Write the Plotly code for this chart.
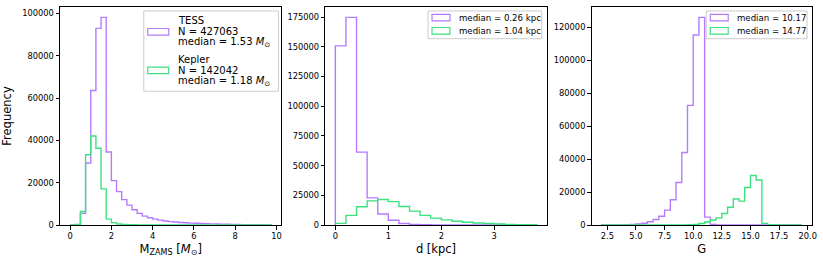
import plotly.graph_objects as go

# ---------------- data ----------------
mass_edges = [round(0.25 * i, 2) for i in range(40)]          # 0 .. 9.75
mass_tess = [0, 0, 5500, 29300, 63600, 93000, 98200, 34500, 21000, 15800,
             12000, 9400, 7200, 5500, 4200, 3400, 2800, 2300, 1900, 1600,
             1400, 1200, 1050, 900, 800, 700, 600, 520, 450, 390,
             330, 280, 240, 200, 170, 140, 110, 90, 70]
mass_kepler = [0, 300, 6400, 33200, 42100, 36300, 17100, 2800, 1100, 500,
               250, 150, 100, 60, 40, 20, 10, 0, 0, 0,
               0, 0, 0, 0, 0, 0, 0, 0, 0, 0,
               0, 0, 0, 0, 0, 0, 0, 0, 0]

dist_edges = [round(0.2 * i, 2) for i in range(20)]            # 0 .. 3.8
dist_tess = [150800, 174800, 61300, 22800, 9300, 4000, 1300, 500, 250, 120,
             70, 40, 30, 20, 10, 10, 5, 5, 5]
dist_kepler = [1400, 8100, 15400, 20300, 21500, 19700, 15600, 11700, 8100, 5800,
               4300, 3200, 2300, 1700, 1200, 800, 500, 300, 200]

g_edges = [round(2.0 + 0.5 * i, 2) for i in range(36)]         # 2.0 .. 19.5
g_tess = [10, 20, 30, 60, 150, 300, 600, 1100, 2000, 3300,
          5300, 9000, 15300, 25800, 44000, 72600, 115300, 126000, 4800, 400,
          50, 0, 0, 0, 0, 0, 0, 0, 0, 0,
          0, 0, 0, 0, 0]
g_kepler = [0, 0, 0, 0, 0, 0, 0, 0, 0, 0,
            0, 0, 0, 0, 50, 150, 400, 900, 1800, 3000,
            4300, 7000, 10800, 15800, 14500, 22800, 30000, 27300, 1000, 200,
            50, 20, 10, 0, 0]

tess_label_mass = ["TESS", "N = 427063", "median = 1.53 <i>M</i><sub>⊙</sub>"]
kepler_label_mass = ["Kepler", "N = 142042", "median = 1.18 <i>M</i><sub>⊙</sub>"]
dist_labels = [["median = 0.26 kpc"], ["median = 1.04 kpc"]]
g_labels = [["median = 10.17"], ["median = 14.77"]]

# ---------------- style ----------------
PURPLE = "#b57bff"
GREEN = "#3fe07f"
FONT = "DejaVu Sans"
SMALL = 8.3
LABEL = 11.5

W, H = 823, 260
ML, MR, MT, MB = 58, 11, 6, 34
PW = W - ML - MR
PH = H - MT - MB
panels_px = [(58, 280), (324, 546), (591, 812)]


def step_xy(edges, counts):
    x = [edges[0]] + edges[:-1] + [edges[-1]]
    y = [0] + list(counts) + [0]
    return x, y


fig = go.Figure()

series = [
    (mass_edges, mass_tess, mass_kepler, "x", "y"),
    (dist_edges, dist_tess, dist_kepler, "x2", "y2"),
    (g_edges, g_tess, g_kepler, "x3", "y3"),
]
for edges, tess, kep, xa, ya in series:
    for counts, col in ((tess, PURPLE), (kep, GREEN)):
        x, y = step_xy(edges, counts)
        fig.add_trace(go.Scatter(x=x, y=y, mode="lines", line_shape="hv",
                                 line=dict(color=col, width=1.4),
                                 xaxis=xa, yaxis=ya, showlegend=False,
                                 hoverinfo="skip"))

axis_common = dict(showline=True, mirror=True, linecolor="black", linewidth=1,
                   ticks="outside", ticklen=3.5, tickwidth=1, tickcolor="black",
                   showgrid=False, zeroline=False,
                   tickfont=dict(family=FONT, size=SMALL, color="black"))

layout = dict(width=W, height=H, margin=dict(l=ML, r=MR, t=MT, b=MB),
              plot_bgcolor="white", paper_bgcolor="white",
              font=dict(family=FONT, color="black"), showlegend=False)

x_specs = [
    dict(range=[-0.49, 10.24], tickvals=[0, 2, 4, 6, 8, 10],
         title="M<sub>ZAMS</sub> [<i>M</i><sub>⊙</sub>]"),
    dict(range=[-0.19, 3.99], tickvals=[0, 1, 2, 3], title="d [kpc]"),
    dict(range=[1.125, 20.375], tickvals=[2.5, 5, 7.5, 10, 12.5, 15, 17.5, 20],
         tickformat=".1f", title="G"),
]
y_specs = [
    dict(range=[0, 103100], tickvals=[0, 20000, 40000, 60000, 80000, 100000]),
    dict(range=[0, 183500], tickvals=[0, 25000, 50000, 75000, 100000, 125000, 150000, 175000]),
    dict(range=[0, 132300], tickvals=[0, 20000, 40000, 60000, 80000, 100000, 120000]),
]

for i, ((p0, p1), xs, ys) in enumerate(zip(panels_px, x_specs, y_specs)):
    sfx = "" if i == 0 else str(i + 1)
    dom = [(p0 - ML) / PW, (p1 - ML) / PW]
    xa = dict(axis_common, domain=dom, range=xs["range"], tickvals=xs["tickvals"],
              anchor="y" + sfx,
              title=dict(text=xs["title"], font=dict(family=FONT, size=LABEL), standoff=4))
    if "tickformat" in xs:
        xa["tickformat"] = xs["tickformat"]
    ya = dict(axis_common, domain=[0, 1], range=ys["range"], tickvals=ys["tickvals"],
              tickformat="d", anchor="x" + sfx)
    if i == 0:
        ya["title"] = dict(text="Frequency", font=dict(family=FONT, size=LABEL), standoff=8)
    layout["xaxis" + sfx] = xa
    layout["yaxis" + sfx] = ya

fig.update_layout(**layout)


# ---------------- legends (drawn with shapes + text) ----------------
def add_legend(panel, box, entries, fsize, handle_w, line_h):
    p0, p1 = panels_px[panel]
    sfx = "" if panel == 0 else str(panel + 1)
    xr, yr = "x" + sfx + " domain", "y" + sfx + " domain"
    pw = p1 - p0

    def fx(px):
        return (px - p0) / pw

    def fy(py):
        return (MT + PH - py) / PH

    bx0, by0, bx1, by1 = box
    fig.add_shape(type="rect", xref=xr, yref=yr, x0=fx(bx0), x1=fx(bx1),
                  y0=fy(by1), y1=fy(by0), fillcolor="rgba(255,255,255,0.8)",
                  line=dict(color="#cccccc", width=1), layer="above")
    for lines, col, cy in entries:
        fig.add_shape(type="rect", xref=xr, yref=yr, x0=fx(bx0 + 4), x1=fx(bx0 + 4 + handle_w),
                      y0=fy(cy + 3.3), y1=fy(cy - 3.3), fillcolor="rgba(0,0,0,0)",
                      line=dict(color=col, width=1.2), layer="above")
        n = len(lines)
        for k, text in enumerate(lines):
            ly = cy + (k - (n - 1) / 2) * line_h
            fig.add_annotation(xref=xr, yref=yr, x=fx(bx0 + 4 + handle_w + 7), y=fy(ly),
                               text=text, showarrow=False, xanchor="left", yanchor="middle",
                               align="left",
                               font=dict(family=FONT, size=fsize, color="black"))


add_legend(0, (142, 10, 277, 91), [(tess_label_mass, PURPLE, 31), (kepler_label_mass, GREEN, 70)],
           10.0, 21, 11.2)
add_legend(1, (427, 10, 541, 38), [(dist_labels[0], PURPLE, 16.7), (dist_labels[1], GREEN, 30)],
           8.6, 18, 11)
add_legend(2, (706, 10, 807, 38), [(g_labels[0], PURPLE, 16.7), (g_labels[1], GREEN, 30)],
           8.6, 18, 11)

fig.write_html("out.html", post_script="document.body.style.margin='0px';",
               config={"displayModeBar": False})
